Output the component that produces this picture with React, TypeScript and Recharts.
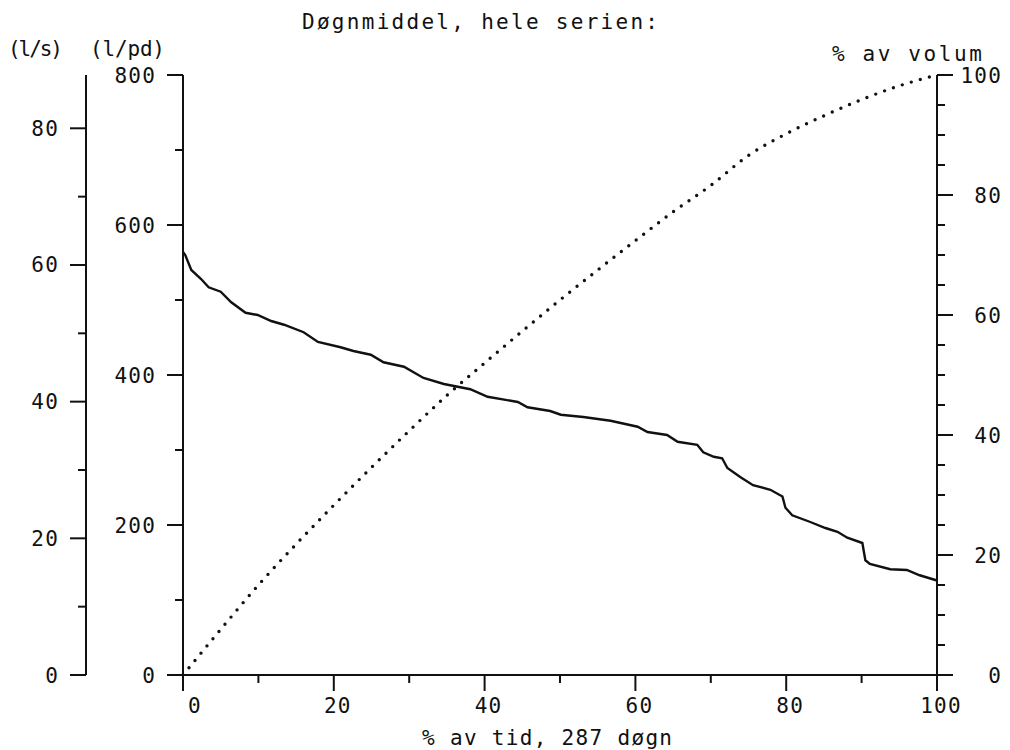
import { LineChart, Line, XAxis, YAxis } from 'recharts';

// varighetskurve, døgnmiddel (l/pd) mot % av tid
const durationTime = [
  0, 0.3, 1.1, 2.4, 3.4, 5.0, 6.4, 8.3, 9.9, 11.7, 13.4, 16.0, 17.9, 20.9, 22.6, 24.9, 26.6, 29.3,
  31.9, 34.6, 38.1, 40.4, 44.4, 45.7, 48.7, 50.1, 53.1, 56.7, 60.3, 61.6, 64.2, 65.6, 68.2, 69.0,
  70.4, 71.5, 72.2, 73.9, 75.6, 77.9, 79.5, 79.9, 80.8, 83.2, 85.2, 86.8, 88.1, 90.1, 90.5, 91.1,
  93.8, 96.0, 97.7, 100,
];
const durationLpd = [
  564, 560, 540, 528, 517, 511, 497, 483, 480, 472, 467, 457, 444, 437, 432, 427, 417, 411,
  396, 388, 381, 371, 364, 357, 352, 347, 344, 339, 331, 324, 320, 311, 307, 297,
  291, 289, 276, 264, 253, 247, 238, 223, 213, 204, 196, 191, 183, 176, 153, 148,
  141, 140, 133, 126,
];

// akkumulert % av volum
const volumeTime = [0, 5, 10, 15, 20, 25, 30, 35, 40, 45, 50, 55, 60, 65, 70, 75, 80, 85, 90, 95, 100];
const volumeShare = [
  0, 7.6, 15, 21.8, 28.3, 34.6, 40.7, 46.6, 52, 57.3, 62.5, 67.5, 72.4, 77.2, 81.6, 86.6, 90.2,
  93.2, 95.9, 98.2, 100,
];

const timeTicks = [0, 10, 20, 30, 40, 50, 60, 70, 80, 90, 100];
const lsTicks = [0, 10, 20, 30, 40, 50, 60, 70, 80];
const lpdTicks = [0, 100, 200, 300, 400, 500, 600, 700, 800];
const volTicks = [0, 5, 10, 15, 20, 25, 30, 35, 40, 45, 50, 55, 60, 65, 70, 75, 80, 85, 90, 95, 100];

const LS_MAX = 87.8; // 800 l/pd tilsvarer ca. 87.8 l/s

const durationData = durationTime.map((x, i) => ({ x, lpd: durationLpd[i] }));
const volumeData = volumeTime.map((x, i) => ({ x, vol: volumeShare[i] }));

const FONT = '"DejaVu Sans Mono", monospace';
const INK = '#111';
const MAJOR = 16;
const MINOR = 8;

const labelStyle = { fontFamily: FONT, fontSize: 21, letterSpacing: 1.2 };

function LeftTick(props: any) {
  const { x, y, payload, step } = props;
  const major = payload.value % step === 0;
  const len = major ? MAJOR : MINOR;
  return (
    <g>
      <line x1={x} x2={x - len} y1={y} y2={y} stroke={INK} strokeWidth={2} />
      {major && (
        <text x={x - 27} y={y + 7.5} textAnchor="end" fill={INK} style={labelStyle}>
          {payload.value}
        </text>
      )}
    </g>
  );
}

function RightTick(props: any) {
  const { x, y, payload } = props;
  const major = payload.value % 20 === 0;
  const len = major ? MAJOR : MINOR;
  return (
    <g>
      <line x1={x} x2={x + len} y1={y} y2={y} stroke={INK} strokeWidth={2} />
      {major && (
        <text x={1002} y={y + 7.5} textAnchor="end" fill={INK} style={labelStyle}>
          {payload.value}
        </text>
      )}
    </g>
  );
}

function BottomTick(props: any) {
  const { x, y, payload } = props;
  const major = payload.value % 20 === 0;
  const len = major ? MAJOR : MINOR;
  const dx = payload.value === 0 ? 12 : 4;
  return (
    <g>
      <line x1={x} x2={x} y1={y} y2={y + len} stroke={INK} strokeWidth={2} />
      {major && (
        <text x={x + dx} y={y + 38} textAnchor="middle" fill={INK} style={labelStyle}>
          {payload.value}
        </text>
      )}
    </g>
  );
}

export default function App() {
  return (
    <div style={{ position: 'absolute', left: 0, top: 0, width: 1010, height: 750, background: '#fff' }}>
      <LineChart width={1010} height={750} margin={{ top: 75, right: 0, bottom: 0, left: 0 }}>
        <XAxis
          xAxisId="t"
          type="number"
          dataKey="x"
          domain={[0, 100]}
          ticks={timeTicks}
          interval={0}
          height={75}
          tickSize={0}
          tickMargin={0}
          axisLine={{ stroke: INK, strokeWidth: 2 }}
          tick={(p: any) => <BottomTick {...p} />}
        />
        <YAxis
          yAxisId="lpd"
          orientation="left"
          domain={[0, 800]}
          allowDataOverflow
          ticks={lpdTicks}
          interval={0}
          width={97}
          tickSize={0}
          tickMargin={0}
          axisLine={{ stroke: INK, strokeWidth: 2 }}
          tick={(p: any) => <LeftTick {...p} step={200} />}
        />
        <YAxis
          yAxisId="ls"
          orientation="left"
          domain={[0, LS_MAX]}
          allowDataOverflow
          ticks={lsTicks}
          interval={0}
          width={86}
          tickSize={0}
          tickMargin={0}
          axisLine={{ stroke: INK, strokeWidth: 2 }}
          tick={(p: any) => <LeftTick {...p} step={20} />}
        />
        <YAxis
          yAxisId="vol"
          orientation="right"
          domain={[0, 100]}
          allowDataOverflow
          ticks={volTicks}
          interval={0}
          width={73}
          tickSize={0}
          tickMargin={0}
          axisLine={{ stroke: INK, strokeWidth: 2 }}
          tick={(p: any) => <RightTick {...p} />}
        />
        <Line
          xAxisId="t"
          yAxisId="vol"
          data={volumeData}
          dataKey="vol"
          type="monotone"
          stroke={INK}
          strokeWidth={3.4}
          strokeDasharray="0 9.4"
          strokeLinecap="round"
          dot={false}
          isAnimationActive={false}
        />
        <Line
          xAxisId="t"
          yAxisId="lpd"
          data={durationData}
          dataKey="lpd"
          type="linear"
          stroke={INK}
          strokeWidth={2.4}
          dot={false}
          isAnimationActive={false}
        />
      </LineChart>
      <svg
        width={1010}
        height={750}
        style={{ position: 'absolute', left: 0, top: 0, pointerEvents: 'none' }}
        fontFamily={FONT}
        fontSize={21}
        fill={INK}
      >
        <text x={302} y={29} textLength={356} lengthAdjust="spacing">Døgnmiddel, hele serien:</text>
        <text x={8} y={56} textLength={55} lengthAdjust="spacing">(l/s)</text>
        <text x={90} y={56} textLength={75} lengthAdjust="spacing">(l/pd)</text>
        <text x={832} y={61} textLength={150} lengthAdjust="spacing">% av volum</text>
        <text x={422} y={745} textLength={250} lengthAdjust="spacing">% av tid, 287 døgn</text>
      </svg>
    </div>
  );
}
